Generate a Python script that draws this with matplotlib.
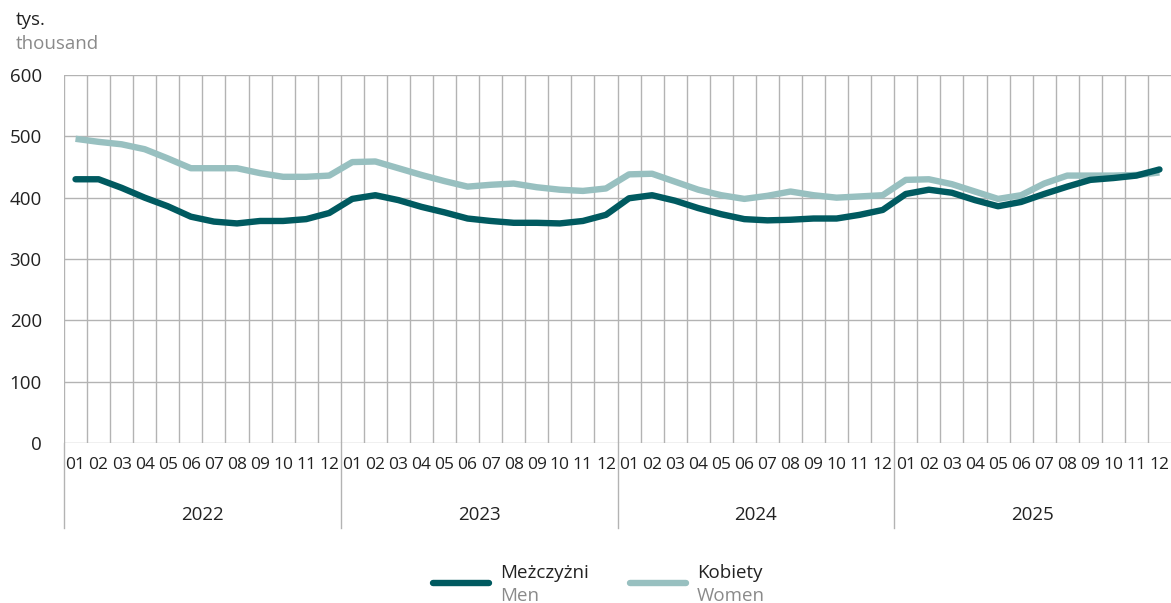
import matplotlib
matplotlib.use("Agg")
import matplotlib.pyplot as plt
from matplotlib.lines import Line2D
import matplotlib.transforms as mtransforms

plt.rcParams['font.family'] = ['Open Sans', 'DejaVu Sans']

years = ["2022", "2023", "2024", "2025"]
months = ["01", "02", "03", "04", "05", "06", "07", "08", "09", "10", "11", "12"]

men = [430, 430, 416, 400, 386, 369, 361, 358, 362, 362, 365, 375,
       398, 404, 396, 385, 376, 366, 362, 359, 359, 358, 362, 372,
       399, 404, 395, 383, 373, 365, 363, 364, 366, 366, 372, 380,
       406, 413, 408, 396, 386, 393, 406, 418, 429, 432, 436, 446]
women = [496, 491, 487, 479, 464, 448, 448, 448, 440, 434, 434, 436,
         458, 459, 448, 437, 427, 418, 421, 423, 417, 413, 411, 415,
         438, 439, 426, 413, 404, 398, 403, 410, 404, 400, 402, 404,
         429, 430, 422, 410, 398, 404, 423, 436, 436, 436, 437, 441]

DARK = "#005a60"
LIGHT = "#98c0c0"
GRID = "#b3b3b3"

fig = plt.figure(figsize=(11.71, 6.03), dpi=100)
W, H = 1171, 603
ax = fig.add_axes([64 / W, 1 - 443 / H, (1171 - 64) / W, (443 - 75) / H])

n = len(men)
x = [i + 0.5 for i in range(n)]
ax.plot(x, women, color=LIGHT, lw=4.6, solid_capstyle='butt', solid_joinstyle='round', zorder=3)
ax.plot(x, men, color=DARK, lw=4.6, solid_capstyle='round', solid_joinstyle='round', zorder=4)

ax.set_xlim(0, n)
ax.set_ylim(0, 600)
ax.set_yticks(range(0, 601, 100))
ax.set_xticks(x)
ax.set_xticklabels(months * len(years))
ax.set_xticks(range(0, n), minor=True)
ax.grid(True, axis='y', which='major', color=GRID, lw=1.0)
ax.grid(True, axis='x', which='minor', color=GRID, lw=1.0)
ax.grid(False, axis='x', which='major')
for s in ax.spines.values():
    s.set_visible(False)
ax.tick_params(axis='both', which='both', length=0)
ax.tick_params(axis='y', labelsize=13.5, pad=16, labelcolor="#222222")
ax.tick_params(axis='x', labelsize=12.5, pad=10, labelcolor="#222222")

trans = mtransforms.blended_transform_factory(ax.transData, ax.transAxes)
axh = (443 - 75)
for k, yr in enumerate(years):
    ax.add_line(Line2D([k * 12, k * 12], [0, -(528 - 443) / axh], transform=trans,
                       color=GRID, lw=1.0, clip_on=False))
    ax.text(k * 12 + 6, -(515 - 443) / axh, yr, transform=trans, ha='center', va='center',
            fontsize=13.5, color="#222222")

fig.text(16 / W, 1 - 20 / H, "tys.", fontsize=13.5, color="#222222", va='center', ha='left')
fig.text(16 / W, 1 - 44 / H, "thousand", fontsize=13.5, color="#8a8a8a", va='center', ha='left')

# legend
for (x0, x1, c, t1, t2) in [(433, 489, DARK, "Meżczyżni", "Men"),
                             (630, 686, LIGHT, "Kobiety", "Women")]:
    fig.add_artist(Line2D([x0 / W, x1 / W], [1 - 583 / H, 1 - 583 / H], color=c, lw=4.6,
                          solid_capstyle='round'))
    fig.text((x1 + 11) / W, 1 - 573 / H, t1, fontsize=13.5, color="#222222", va='center', ha='left')
    fig.text((x1 + 11) / W, 1 - 596 / H, t2, fontsize=13.5, color="#8a8a8a", va='center', ha='left')

fig.savefig("out.png", dpi=100)
